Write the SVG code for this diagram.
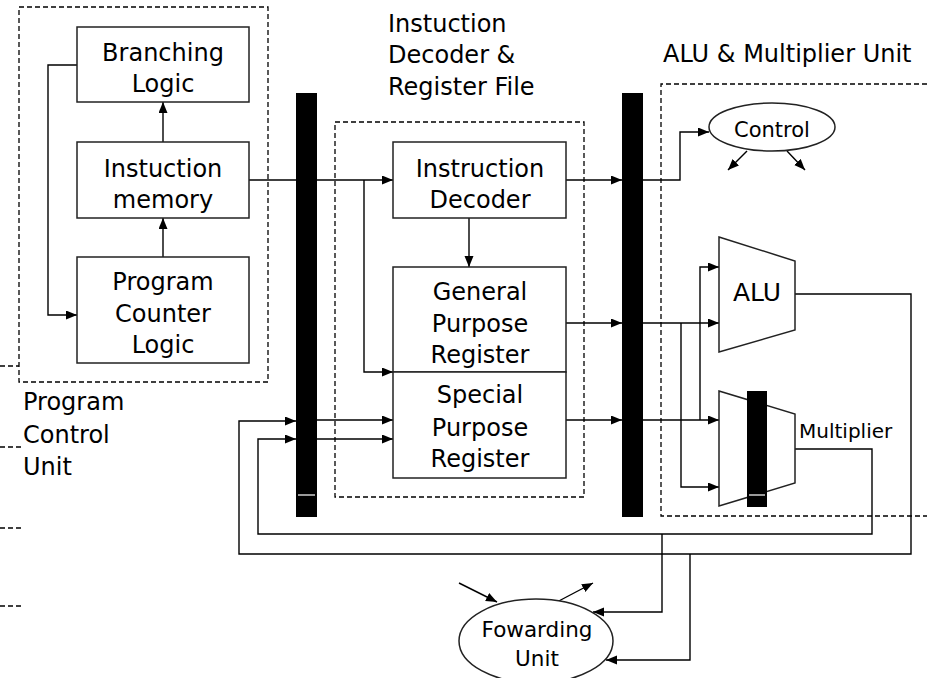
<svg xmlns="http://www.w3.org/2000/svg" width="927" height="678" viewBox="0 0 927 678">
  <style>
    .box { fill: #fff; stroke: #222; stroke-width: 1.5; }
    .dash { fill: none; stroke: #000; stroke-width: 1.3; stroke-dasharray: 5 3; }
    .wire { fill: none; stroke: #000; stroke-width: 1.4; }
    .arr { marker-end: url(#head); }
    .bar { fill: #000; }
    .tick { stroke: #fff; stroke-width: 1.2; }
    text { font-family: "DejaVu Sans", "Liberation Sans", sans-serif; fill: #000; }
    .lbl { font-size: 24px; text-anchor: middle; }
    .title { font-size: 24px; }
  </style>
  <defs>
    <marker id="head" markerUnits="userSpaceOnUse" markerWidth="12" markerHeight="10" refX="11" refY="4.5" orient="auto">
      <path d="M0,0 L11,4.5 L0,9 z" fill="#000"/>
    </marker>
  </defs>

  <!-- unit frames -->
  <g id="program-control-unit">
    <rect class="dash" x="19" y="7" width="249" height="375"/>
    <text class="title" x="23" y="410">Program</text>
    <text class="title" x="23" y="443">Control</text>
    <text class="title" x="23" y="475">Unit</text>
  </g>
  <g id="decoder-register-unit">
    <rect class="dash" x="335" y="122" width="249" height="375"/>
    <text class="title" x="388" y="32">Instuction</text>
    <text class="title" x="388" y="63">Decoder &amp;</text>
    <text class="title" x="388" y="95">Register File</text>
  </g>
  <g id="alu-multiplier-unit">
    <path class="dash" d="M927,84 H661 V516 H927"/>
    <text class="title" x="663" y="62">ALU &amp; Multiplier Unit</text>
  </g>

  <!-- stray frame edges at the left border -->
  <g id="left-edges">
    <path class="dash" d="M0,366 H19"/>
    <path class="dash" d="M0,447 H22"/>
    <path class="dash" d="M0,528 H22"/>
    <path class="dash" d="M0,606 H22"/>
  </g>

  <!-- connectors -->
  <g id="connectors">
    <!-- program control loop -->
    <path class="wire arr" d="M163,142 V102"/>
    <path class="wire arr" d="M163,257 V218"/>
    <path class="wire arr" d="M77,65 H48 V315 H77"/>
    <!-- instruction fetch path -->
    <path class="wire" d="M249,180 H296"/>
    <path class="wire arr" d="M317,180 H393"/>
    <path class="wire arr" d="M364,180 V372 H393"/>
    <path class="wire arr" d="M469,218 V267"/>
    <!-- register inputs from the pipeline bar -->
    <path class="wire arr" d="M317,420 H393"/>
    <path class="wire arr" d="M317,439 H393"/>
    <!-- decode stage outputs -->
    <path class="wire arr" d="M566,180 H622"/>
    <path class="wire arr" d="M566,323 H622"/>
    <path class="wire arr" d="M566,420 H622"/>
    <!-- execute stage inputs -->
    <path class="wire arr" d="M643,180 H680 V132 H709"/>
    <path class="wire arr" d="M643,323 H719"/>
    <path class="wire arr" d="M681,323 V487 H719"/>
    <path class="wire arr" d="M643,420 H719"/>
    <path class="wire arr" d="M700,420 V267 H719"/>
    <!-- control outputs -->
    <path class="wire arr" d="M747,151 L728,170"/>
    <path class="wire arr" d="M787,151 L805,170"/>
    <!-- write-back loops -->
    <path class="wire arr" d="M795,294 H911 V554 H239 V421 H296"/>
    <path class="wire arr" d="M795,449 H872 V534 H258 V439 H296"/>
    <!-- forwarding taps -->
    <path class="wire arr" d="M662,534 V612 H593"/>
    <path class="wire arr" d="M690,554 V660 H606"/>
    <path class="wire arr" d="M459,583 L497,602"/>
    <path class="wire arr" d="M555,603 L593,583"/>
  </g>

  <!-- pipeline bars -->
  <g id="pipeline-bar-1">
    <rect class="bar" x="296" y="93" width="21" height="424"/>
    <line class="tick" x1="298" y1="495" x2="315" y2="495"/>
  </g>
  <g id="pipeline-bar-2">
    <rect class="bar" x="622" y="93" width="21" height="424"/>
  </g>

  <!-- program control nodes -->
  <g id="branching-logic">
    <rect class="box" x="77" y="27" width="172" height="75"/>
    <text class="lbl" x="163" y="61">Branching</text>
    <text class="lbl" x="163" y="92">Logic</text>
  </g>
  <g id="instruction-memory">
    <rect class="box" x="77" y="142" width="172" height="76"/>
    <text class="lbl" x="163" y="177">Instuction</text>
    <text class="lbl" x="163" y="208">memory</text>
  </g>
  <g id="program-counter-logic">
    <rect class="box" x="77" y="257" width="172" height="106"/>
    <text class="lbl" x="163" y="290">Program</text>
    <text class="lbl" x="163" y="322">Counter</text>
    <text class="lbl" x="163" y="353">Logic</text>
  </g>

  <!-- decode nodes -->
  <g id="instruction-decoder">
    <rect class="box" x="393" y="142" width="173" height="76"/>
    <text class="lbl" x="480" y="177">Instruction</text>
    <text class="lbl" x="480" y="208">Decoder</text>
  </g>
  <g id="general-purpose-register">
    <rect class="box" x="393" y="267" width="173" height="105"/>
    <text class="lbl" x="480" y="300">General</text>
    <text class="lbl" x="480" y="332">Purpose</text>
    <text class="lbl" x="480" y="363">Register</text>
  </g>
  <g id="special-purpose-register">
    <rect class="box" x="393" y="372" width="173" height="106"/>
    <text class="lbl" x="480" y="403">Special</text>
    <text class="lbl" x="480" y="436">Purpose</text>
    <text class="lbl" x="480" y="467">Register</text>
  </g>

  <!-- execute nodes -->
  <g id="control">
    <ellipse class="box" cx="772" cy="127" rx="63" ry="24"/>
    <text x="772" y="137" style="font-size:21px;text-anchor:middle">Control</text>
  </g>
  <g id="alu">
    <polygon class="box" points="719,237 795,261 795,330 719,352"/>
    <text x="757" y="301" style="font-size:25px;text-anchor:middle">ALU</text>
  </g>
  <g id="multiplier">
    <polygon class="box" points="719,391 795,414 795,483 719,506"/>
    <rect class="bar" x="747" y="391" width="20" height="116"/>
    <line class="tick" x1="749" y1="495" x2="765" y2="495"/>
    <text x="799" y="438" style="font-size:20px">Multiplier</text>
  </g>

  <g id="forwarding-unit">
    <ellipse class="box" cx="536" cy="641" rx="77" ry="42"/>
    <text x="537" y="637" style="font-size:21.5px;text-anchor:middle">Fowarding</text>
    <text x="537" y="666" style="font-size:21.5px;text-anchor:middle">Unit</text>
  </g>
</svg>
